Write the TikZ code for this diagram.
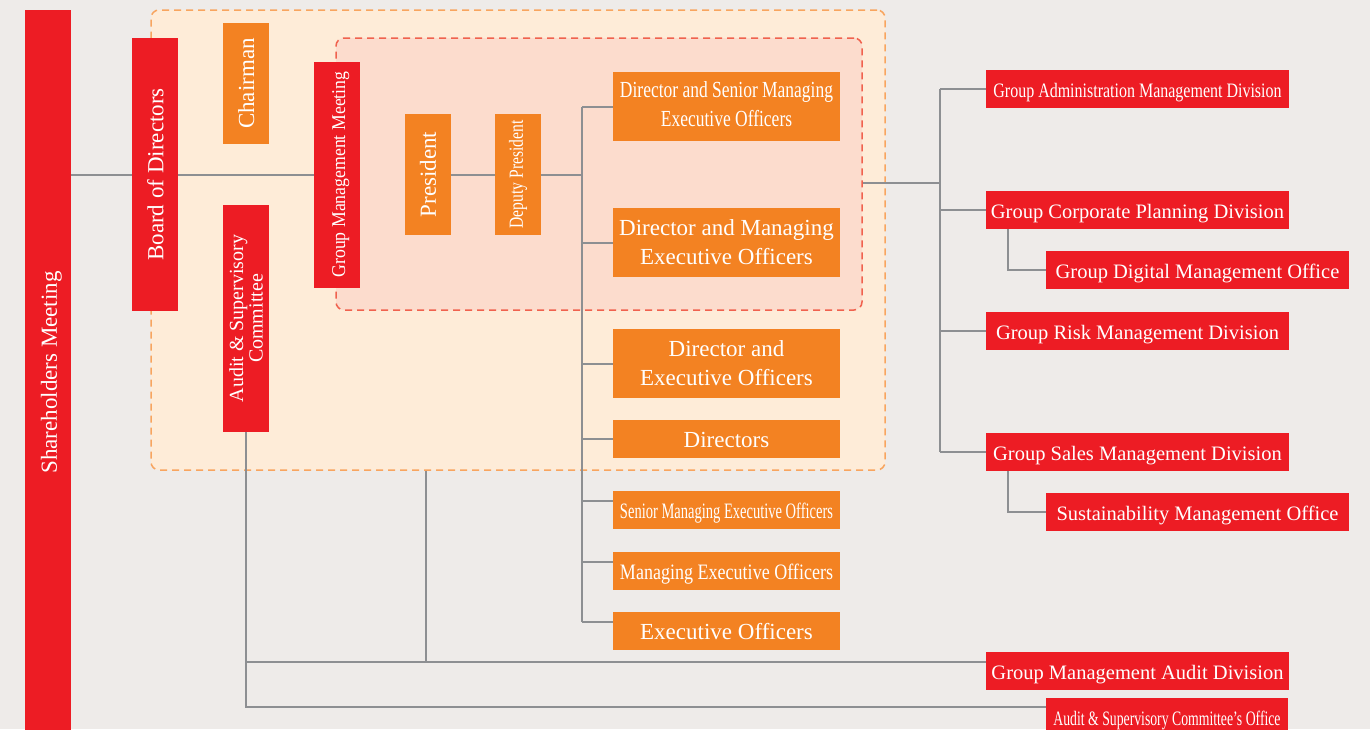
\documentclass[tikz,border=0pt]{standalone}
\usepackage{fontspec}
\setmainfont{Liberation Serif}
\usepackage{graphicx}

\definecolor{paper}{RGB}{238,235,233}
\definecolor{orgred}{RGB}{237,28,36}
\definecolor{orgorange}{RGB}{243,130,34}
\definecolor{boardfill}{RGB}{254,236,216}
\definecolor{boardline}{RGB}{248,165,95}
\definecolor{mgmtfill}{RGB}{252,220,205}
\definecolor{mgmtline}{RGB}{240,98,78}
\definecolor{linkgrey}{RGB}{141,143,146}

% condensed text
\newcommand{\squeeze}[2]{\scalebox{#1}[1]{#2}}

\tikzset{
  redbox/.style={fill=orgred, text=white, inner sep=0pt},
  orangebox/.style={fill=orgorange, text=white, inner sep=0pt},
  oneline/.style={text height=#1, text depth=0pt},
  oneline/.default=17pt,
  division/.style={redbox, minimum width=303pt, minimum height=38pt, oneline, font=\fontsize{20.5}{26}\selectfont},
  officer/.style={orangebox, minimum width=227pt, align=center, font=\fontsize{23}{29}\selectfont},
  pillar/.style={rotate=90, minimum height=46pt, align=center, font=\fontsize{23}{29}\selectfont},
  area/.style={dash pattern=on 7pt off 5pt, line width=1.5pt, rounded corners=8pt},
  link/.style={draw=linkgrey, line width=2pt}
}

\begin{document}
\begin{tikzpicture}[x=1pt,y=-1pt]
  \useasboundingbox (0,0) rectangle (1370,729);
  \clip (0,0) rectangle (1370,729);
  \fill[paper] (0,0) rectangle (1370,729);

  % dashed areas
  \node[area, fill=boardfill, draw=boardline, minimum width=734pt, minimum height=460pt] (boardarea) at (518,240) {};
  \node[area, fill=mgmtfill, draw=mgmtline, minimum width=526pt, minimum height=272pt] (mgmtarea) at (599,174) {};

  % vertical boxes
  \node[redbox, pillar, oneline=17.5pt, minimum width=725pt] (share) at (48,372.5) {Shareholders Meeting};
  \node[redbox, pillar, oneline=16.5pt, minimum width=273pt] (board) at (155,174.5) {Board of Directors};
  \node[orangebox, pillar, oneline=16pt, minimum width=121pt] (chair) at (246,83.5) {Chairman};
  \node[redbox, pillar, minimum width=227pt, font=\fontsize{20}{19.5}\selectfont] (audit) at (246,318.5) {Audit \& Supervisory\\Committee};
  \node[redbox, pillar, oneline=16pt, minimum width=226pt, font=\fontsize{19.5}{24}\selectfont] (gmm) at (337,174.5) {\squeeze{0.91}{Group Management Meeting}};
  \node[orangebox, pillar, minimum width=121pt] (pres) at (428,174.5) {President};
  \node[orangebox, pillar, minimum width=121pt, font=\fontsize{20}{24}\selectfont] (dep) at (518,174.5) {\squeeze{0.78}{Deputy President}};

  % officers
  \node[officer, minimum height=69pt] (dsmeo) at (726.5,106.5) {\squeeze{0.76}{\begin{tabular}{@{}c@{}}Director and Senior Managing\\Executive Officers\end{tabular}}};
  \node[officer, minimum height=69pt] (dmeo) at (726.5,242.5) {Director and Managing\\Executive Officers};
  \node[officer, minimum height=69pt] (deo) at (726.5,363.5) {Director and\\Executive Officers};
  \node[officer, oneline=17.5pt, minimum height=38pt] (dirs) at (726.5,439) {Directors};
  \node[officer, oneline=17.5pt, minimum height=38pt, font=\fontsize{22}{28}\selectfont] (smeo) at (726.5,510) {\squeeze{0.66}{Senior Managing Executive Officers}};
  \node[officer, oneline=17.5pt, minimum height=38pt, font=\fontsize{22}{28}\selectfont] (meo) at (726.5,571) {\squeeze{0.82}{Managing Executive Officers}};
  \node[officer, oneline=17.5pt, minimum height=38pt] (eo) at (726.5,631) {Executive Officers};

  % divisions
  \node[division] (gamd) at (1137.5,89) {\squeeze{0.78}{Group Administration Management Division}};
  \node[division] (gcpd) at (1137.5,210) {Group Corporate Planning Division};
  \node[division] (gdmo) at (1197.5,270) {Group Digital Management Office};
  \node[division] (grmd) at (1137.5,331) {Group Risk Management Division};
  \node[division] (gsmd) at (1137.5,452) {Group Sales Management Division};
  \node[division] (smo) at (1197.5,512) {Sustainability Management Office};
  \node[division] (gmad) at (1137.5,671) {Group Management Audit Division};
  \node[division, minimum width=242pt] (asco) at (1167,717) {\squeeze{0.67}{Audit \& Supervisory Committee's Office}};

  % connectors
  \coordinate (spine) at (582,0);
  \coordinate (rspine) at (940,0);
  \coordinate (mgmtout) at ([yshift=-9pt]mgmtarea.east);
  \coordinate (gmadin) at ([yshift=9pt]gmad.west);
  \coordinate (ascoin) at ([yshift=10pt]asco.west);
  \coordinate (drop) at ([xshift=276pt]boardarea.south west);

  \draw[link] (share.south |- board.north) -- (board.north);
  \draw[link] (board.south) -- (gmm.north);
  \draw[link] (pres.south) -- (dep.north);
  \draw[link] (dep.south) -- (spine |- dep.south);
  \foreach \o in {smeo,meo,eo}
    \coordinate (\o in) at ([yshift=9pt]\o.west);
  \draw[link] (spine |- dsmeo.west) -- (spine |- eoin);
  \foreach \o in {dsmeo,dmeo,deo,dirs}
    \draw[link] (spine |- \o.west) -- (\o.west);
  \foreach \o in {smeoin,meoin,eoin}
    \draw[link] (spine |- \o) -- (\o);

  \draw[link] (mgmtout) -- (rspine |- mgmtout);
  \draw[link] (rspine |- gamd.west) -- (rspine |- gsmd.west);
  \foreach \d in {gamd,gcpd,grmd,gsmd}
    \draw[link] (rspine |- \d.west) -- (\d.west);
  \draw[link] ([xshift=22pt]gcpd.south west) |- (gdmo.west);
  \draw[link] ([xshift=22pt]gsmd.south west) |- (smo.west);

  \draw[link] (audit.west) |- (ascoin);
  \draw[link] (audit.west |- gmadin) -- (gmadin);
  \draw[link] (drop) -- (drop |- gmadin);
\end{tikzpicture}
\end{document}
